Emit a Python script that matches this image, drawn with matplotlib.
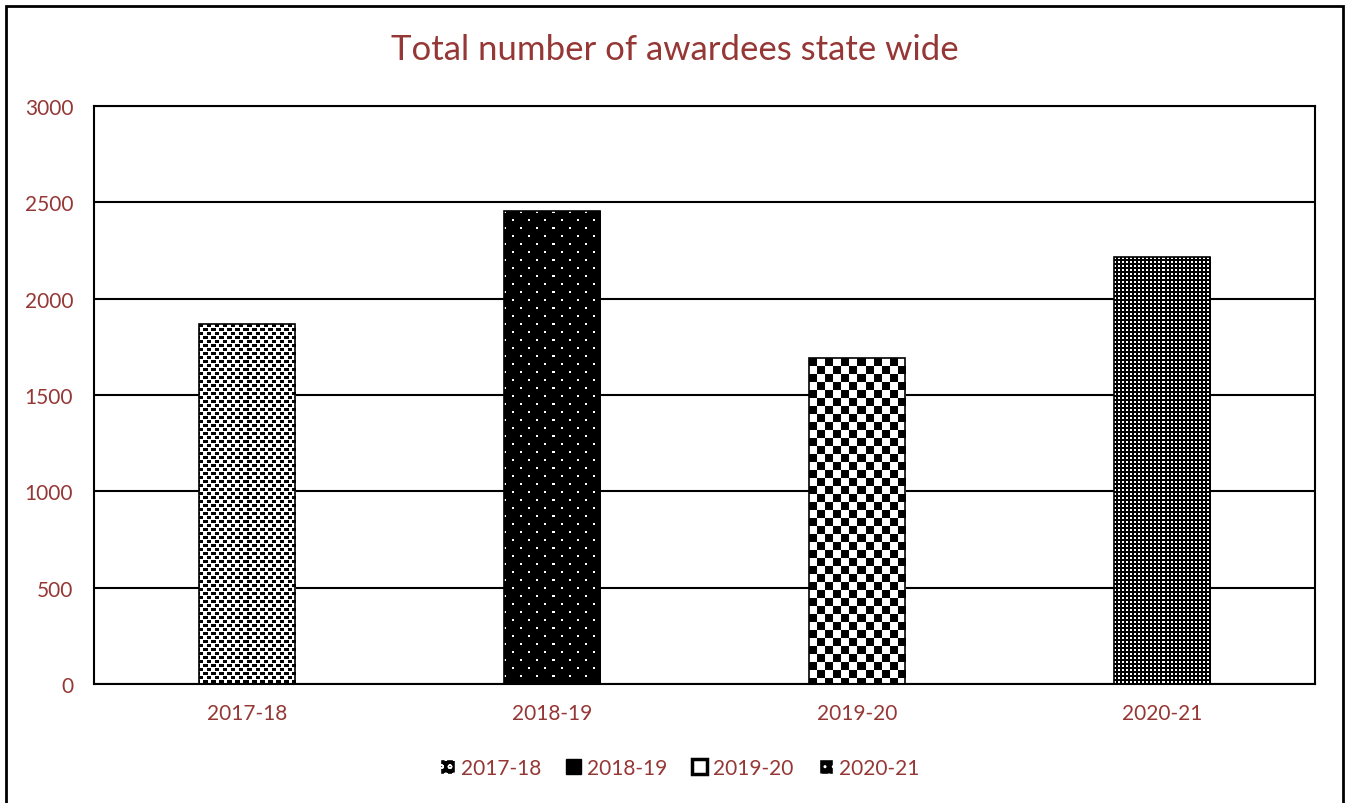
import numpy as np
import matplotlib.pyplot as plt
from matplotlib.patches import Patch, Rectangle

years = ["2017-18", "2018-19", "2019-20", "2020-21"]
awardees = [1868, 2455, 1692, 2216]

brown = "#953735"
plt.rcParams['font.family'] = ['Lato', 'DejaVu Sans']


def pattern(kind, h, w):
    # 1 = white pixel, 0 = black pixel
    yy, xx = np.mgrid[0:h, 0:w]
    if kind == "confetti":
        arr = np.ones((h, w))
        r = yy % 8
        c = xx % 8
        arr[(r < 3) & (c < 4)] = 0
        arr[(r >= 4) & (r < 7) & (c >= 4)] = 0
        arr[(r >= 4) & (r < 7) & (c < 1)] = 0
        return arr
    if kind == "sparse":
        arr = np.zeros((h, w))
        r = yy % 16
        c = xx % 16
        arr[(r < 2) & (c < 2)] = 1
        arr[(r >= 8) & (r < 10) & (c >= 8) & (c < 10)] = 1
        return arr
    if kind == "checker":
        return (((yy // 8) + (xx // 8)) % 2).astype(float)
    if kind == "dense":
        arr = np.zeros((h, w))
        arr[(yy % 4 < 2) & (xx % 4 < 2)] = 1
        return arr


kinds = ["confetti", "sparse", "checker", "dense"]

fig = plt.figure(figsize=(13.49, 8.04), dpi=100)
ax = fig.add_axes([94 / 1349, 1 - 685 / 804, (1315 - 94) / 1349, (685 - 107) / 804])

x = np.arange(len(years))
bars = ax.bar(x, awardees, width=0.315, facecolor='none', edgecolor='black', lw=1.2, zorder=3)
ax.set_xlim(-0.5, 3.5)
ax.set_ylim(0, 3000)
ax.set_yticks(range(0, 3001, 500))
ax.set_xticks(x)
ax.set_xticklabels(years)
ax.yaxis.grid(True, color='black', lw=1.5)
ax.set_axisbelow(True)
ax.tick_params(length=0, labelcolor=brown, labelsize=15)
ax.tick_params(axis='x', pad=14)
ax.tick_params(axis='y', pad=15)
for s in ax.spines.values():
    s.set_linewidth(1.5)

# fill each bar with its pixel pattern
for rect, kind in zip(bars, kinds):
    x0, y0 = rect.get_xy()
    w, h = rect.get_width(), rect.get_height()
    p0 = ax.transData.transform((x0, y0))
    p1 = ax.transData.transform((x0 + w, y0 + h))
    pw = int(round(p1[0] - p0[0]))
    ph = int(round(p1[1] - p0[1]))
    img = pattern(kind, ph, pw)
    ax.imshow(img, cmap='gray', vmin=0, vmax=1, extent=(x0, x0 + w, y0, y0 + h),
              interpolation='nearest', aspect='auto', zorder=2.5)
ax.set_xlim(-0.5, 3.5)
ax.set_ylim(0, 3000)

fig.text(0.5, 1 - 50 / 804, "Total number of awardees state wide", ha='center', va='center',
         fontsize=25, color=brown)

handles = [
    Patch(facecolor='black', edgecolor='white', hatch='oo'),
    Patch(facecolor='black', edgecolor='black'),
    Patch(facecolor='white', edgecolor='black', lw=2.5),
    Patch(facecolor='black', edgecolor='white', hatch='..'),
]
fig.legend(handles, years, loc='center', bbox_to_anchor=(680 / 1349, 1 - 769 / 804), ncol=4,
           frameon=False, handlelength=0.7, handleheight=0.7, handletextpad=0.3,
           columnspacing=1.2, labelcolor=brown, fontsize=15)

fig.add_artist(Rectangle((6 / 1349, -0.01), (1343 - 6) / 1349, (804 - 7) / 804 + 0.01,
                         transform=fig.transFigure, fill=False, lw=2, edgecolor='black'))

fig.savefig("out.png", dpi=100)
